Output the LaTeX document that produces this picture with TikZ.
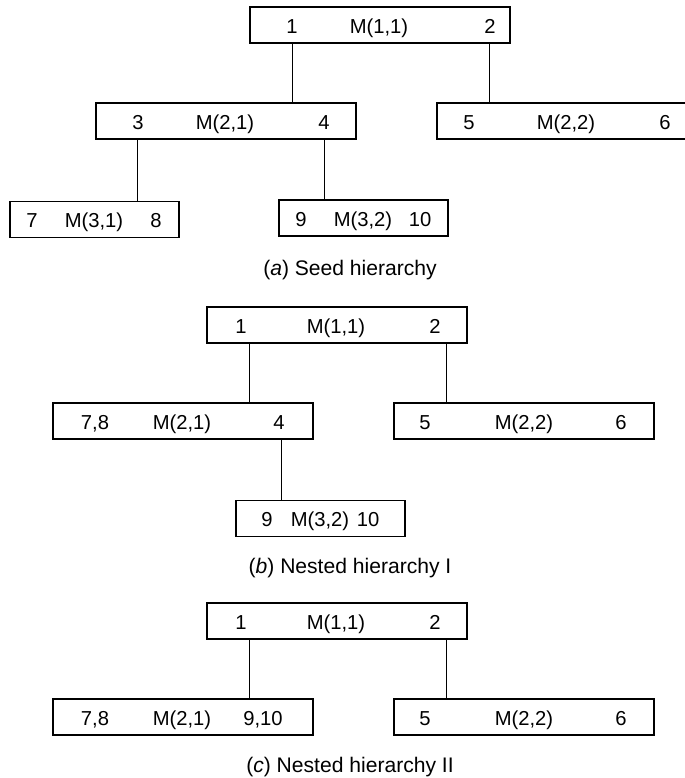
\documentclass[tikz,border=0pt]{standalone}
\usepackage{fontspec}
\setmainfont{Liberation Sans}
\usetikzlibrary{positioning}

\begin{document}
\begin{tikzpicture}[x=0.02cm, y=-0.02cm,
    caja/.style={draw, line width=0.7pt, inner sep=0pt, minimum height=0.72cm},
    larga/.style={caja, minimum width=5.2cm},
    corta/.style={caja, minimum width=3.38cm},
    etq/.style={anchor=base, font=\fontsize{11.5}{13}\selectfont},
    pie/.style={anchor=base, font=\fontsize{12}{14}\selectfont},
    enlace/.style={line width=0.6pt}]
  \useasboundingbox (0,0) rectangle (685,778);

  % (a) jerarquia semilla
  \node[larga] (a11) at (380,25) {};
  \node[larga] (a21) at (226,121) {};
  \node[larga] (a22) at (567,121) {};
  \node[corta] (a31) at (94.5,219.5) {};
  \node[corta] (a32) at (363.5,218) {};
  \node[etq] (a11i) at (292,33) {1};
  \node[etq] (a11m) at (379,33) {M(1,1)};
  \node[etq] (a11d) at (490,33) {2};
  \node[etq] (a21i) at (138,129) {3};
  \node[etq] (a21m) at (225,129) {M(2,1)};
  \node[etq] (a21d) at (324,129) {4};
  \node[etq] (a22i) at (469,129) {5};
  \node[etq] (a22m) at (566,129) {M(2,2)};
  \node[etq] (a22d) at (665,129) {6};
  \node[etq] (a31i) at (32,227.5) {7};
  \node[etq] (a31m) at (94,227.5) {M(3,1)};
  \node[etq] (a31d) at (156,227.5) {8};
  \node[etq] (a32i) at (301,226) {9};
  \node[etq] (a32m) at (363,226) {M(3,2)};
  \node[etq] (a32d) at (420,226) {10};
  \draw[enlace] ([xshift=0.86cm]a11.south west) coordinate (a1i) -- (a1i |- a21.north);
  \draw[enlace] ([xshift=4.8cm]a11.south west) coordinate (a1d) -- (a1d |- a22.north);
  \draw[enlace] ([xshift=0.84cm]a21.south west) coordinate (a2i) -- (a2i |- a31.north);
  \draw[enlace] ([xshift=4.58cm]a21.south west) coordinate (a2d) -- (a2d |- a32.north);
  \node[pie] (pa) at (350,275) {(\textit{a}) Seed hierarchy};

  % (b) jerarquia anidada I
  \node[larga] (b11) at (337,325) {};
  \node[larga] (b21) at (183,421) {};
  \node[larga] (b22) at (524,421) {};
  \node[corta] (b32) at (320.5,518.5) {};
  \node[etq] (b11i) at (241,333) {1};
  \node[etq] (b11m) at (336,333) {M(1,1)};
  \node[etq] (b11d) at (435,333) {2};
  \node[etq] (b21i) at (95,429) {7,8};
  \node[etq] (b21m) at (182,429) {M(2,1)};
  \node[etq] (b21d) at (279,429) {4};
  \node[etq] (b22i) at (425,429) {5};
  \node[etq] (b22m) at (524,429) {M(2,2)};
  \node[etq] (b22d) at (621,429) {6};
  \node[etq] (b32i) at (267,526.5) {9};
  \node[etq] (b32m) at (320,526.5) {M(3,2)};
  \node[etq] (b32d) at (368,526.5) {10};
  \draw[enlace] ([xshift=0.86cm]b11.south west) coordinate (b1i) -- (b1i |- b21.north);
  \draw[enlace] ([xshift=4.8cm]b11.south west) coordinate (b1d) -- (b1d |- b22.north);
  \draw[enlace] ([xshift=4.58cm]b21.south west) coordinate (b2d) -- (b2d |- b32.north);
  \node[pie] (pb) at (350,573) {(\textit{b}) Nested hierarchy I};

  % (c) jerarquia anidada II
  \node[larga] (c11) at (337,621) {};
  \node[larga] (c21) at (183,717) {};
  \node[larga] (c22) at (524,717) {};
  \node[etq] (c11i) at (241,629) {1};
  \node[etq] (c11m) at (336,629) {M(1,1)};
  \node[etq] (c11d) at (435,629) {2};
  \node[etq] (c21i) at (95,725) {7,8};
  \node[etq] (c21m) at (182,725) {M(2,1)};
  \node[etq] (c21d) at (263,725) {9,10};
  \node[etq] (c22i) at (425,725) {5};
  \node[etq] (c22m) at (524,725) {M(2,2)};
  \node[etq] (c22d) at (621,725) {6};
  \draw[enlace] ([xshift=0.86cm]c11.south west) coordinate (c1i) -- (c1i |- c21.north);
  \draw[enlace] ([xshift=4.8cm]c11.south west) coordinate (c1d) -- (c1d |- c22.north);
  \node[pie] (pc) at (350,772) {(\textit{c}) Nested hierarchy II};
\end{tikzpicture}
\end{document}
